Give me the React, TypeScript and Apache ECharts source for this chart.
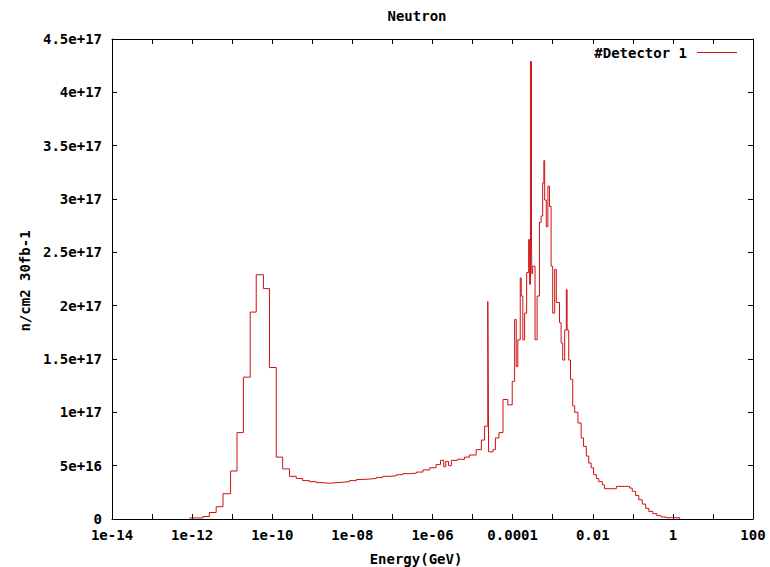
import React, { useEffect, useRef } from "react";
import * as echarts from "echarts";

// Bin left edges in log10(Energy / GeV); the last entry closes the final bin
const logEnergyEdges = [
  -12.07, -11.73, -11.57, -11.4, -11.23, -11.04, -10.88, -10.72, -10.55, -10.4,
  -10.22, -10.07, -9.9, -9.74, -9.57, -9.4, -9.24, -9.07, -8.9, -8.73,
  -8.57, -8.4, -8.24, -8.07, -7.9, -7.74, -7.57, -7.4, -7.24, -7.07,
  -6.9, -6.74, -6.57, -6.4, -6.24, -6.07, -5.91, -5.8, -5.72, -5.67,
  -5.6, -5.53, -5.38, -5.2, -5.08, -4.91, -4.78, -4.7, -4.62, -4.61,
  -4.6, -4.49, -4.43, -4.34, -4.24, -4.12, -4.01, -3.95, -3.91, -3.87,
  -3.81, -3.785, -3.745, -3.7, -3.65, -3.6, -3.575, -3.555, -3.53, -3.52,
  -3.5, -3.44, -3.39, -3.33, -3.29, -3.25, -3.22, -3.2, -3.16, -3.12,
  -3.08, -3.04, -3.0, -2.95, -2.91, -2.83, -2.79, -2.75, -2.7, -2.66,
  -2.64, -2.6, -2.555, -2.5, -2.45, -2.37, -2.29, -2.23, -2.16, -2.1,
  -2.04, -1.98, -1.91, -1.85, -1.76, -1.71, -1.41, -1.08, -1.015, -0.93,
  -0.85, -0.765, -0.68, -0.6, -0.5, -0.4, -0.29, -0.17, 0.17,
];

// Flux (n/cm2 30fb-1) in each bin; last value closes the histogram
const flux = [
  1e15, 2.3e15, 6.1e15, 1.15e16, 2.37e16, 4.5e16, 8.1e16, 1.33e17, 1.94e17, 2.29e17,
  2.16e17, 1.42e17, 5.8e16, 4.7e16, 4.0e16, 3.8e16, 3.6e16, 3.5e16, 3.4e16, 3.35e16,
  3.4e16, 3.45e16, 3.5e16, 3.6e16, 3.7e16, 3.75e16, 3.8e16, 3.9e16, 4.0e16, 4.05e16,
  4.15e16, 4.25e16, 4.3e16, 4.4e16, 4.6e16, 4.8e16, 5.1e16, 5.5e16, 4.9e16, 5.4e16,
  5.0e16, 5.5e16, 5.6e16, 5.8e16, 6.0e16, 6.5e16, 7.4e16, 8.7e16, 2.04e17, 1.43e17,
  6.3e16, 6.5e16, 7.6e16, 8.1e16, 1.12e17, 1.07e17, 1.29e17, 1.87e17, 1.43e17, 1.68e17,
  2.26e17, 2.09e17, 1.68e17, 1.93e17, 2.31e17, 2.62e17, 2.2e17, 4.29e17, 2.65e17, 2.3e17,
  2.37e17, 1.68e17, 2.09e17, 2.78e17, 2.84e17, 3.15e17, 3.36e17, 2.99e17, 2.74e17, 3.12e17,
  2.93e17, 2.37e17, 1.93e17, 2.34e17, 2.03e17, 1.84e17, 1.65e17, 1.49e17, 1.77e17, 2.15e17,
  1.77e17, 1.49e17, 1.31e17, 1.06e17, 1.0e17, 9.0e16, 7.6e16, 6.8e16, 5.9e16, 5.25e16,
  4.8e16, 4.15e16, 3.8e16, 3.5e16, 3.2e16, 2.84e16, 3.06e16, 2.9e16, 2.6e16, 2.2e16,
  1.8e16, 1.4e16, 1.0e16, 7.1e15, 5e15, 3.1e15, 1.9e15, 1.2e15, 0,
];

const xTickLabels = ["1e-14", "1e-12", "1e-10", "1e-08", "1e-06", "0.0001", "0.01", "1", "100"];
const yTickLabels = ["0", "5e+16", "1e+17", "1.5e+17", "2e+17", "2.5e+17", "3e+17", "3.5e+17", "4e+17", "4.5e+17"];

const FONT = "DejaVu Sans Mono";

export default function App() {
  const ref = useRef<HTMLDivElement>(null);
  useEffect(() => {
    if (!ref.current) return;
    const chart = echarts.init(ref.current, undefined, { renderer: "svg" });
    const textStyle = { fontFamily: FONT, fontWeight: "bold" as const, fontSize: 14, color: "#000" };
    const axisLine = { show: true, onZero: false, lineStyle: { color: "#000", width: 1 } };
    const axisTick = { show: true, inside: true, length: 5, lineStyle: { color: "#000", width: 1 } };
    const data = logEnergyEdges.map((e, i) => [e, flux[i]]);
    chart.setOption({
      animation: false,
      backgroundColor: "#fff",
      grid: { left: 112, top: 39, width: 641, height: 480, containLabel: false },
      xAxis: [
        {
          type: "value", min: -14, max: 2, interval: 1, position: "bottom",
          axisLine, axisTick, splitLine: { show: false },
          axisLabel: {
            ...textStyle, margin: 9, showMinLabel: true, showMaxLabel: true,
            formatter: (v: number) => {
              const k = Math.round(v) + 14;
              return k % 2 === 0 ? xTickLabels[k / 2] : "";
            },
          },
        },
        {
          type: "value", min: -14, max: 2, interval: 1, position: "top",
          axisLine, axisTick, splitLine: { show: false }, axisLabel: { show: false },
        },
      ],
      yAxis: [
        {
          type: "value", min: 0, max: 4.5e17, interval: 5e16, position: "left",
          axisLine, axisTick, splitLine: { show: false },
          axisLabel: {
            ...textStyle, margin: 10,
            formatter: (v: number) => yTickLabels[Math.round(v / 5e16)],
          },
        },
        {
          type: "value", min: 0, max: 4.5e17, interval: 5e16, position: "right",
          axisLine, axisTick, splitLine: { show: false }, axisLabel: { show: false },
        },
      ],
      series: [
        {
          type: "line", name: "#Detector 1", step: "end", data,
          showSymbol: false, symbol: "none",
          lineStyle: { color: "#cc1111", width: 1 },
        },
      ],
      graphic: [
        { type: "text", x: 417, y: 16, style: { text: "Neutron", ...textStyle, fill: "#000", textAlign: "center", textVerticalAlign: "middle" } },
        { type: "text", x: 416, y: 559, style: { text: "Energy(GeV)", ...textStyle, fill: "#000", textAlign: "center", textVerticalAlign: "middle" } },
        { type: "text", x: 25, y: 281, rotation: Math.PI / 2, style: { text: "n/cm2 30fb-1", ...textStyle, fill: "#000", textAlign: "center", textVerticalAlign: "middle" } },
        { type: "text", x: 687, y: 53, style: { text: "#Detector 1", ...textStyle, fill: "#000", textAlign: "right", textVerticalAlign: "middle" } },
        { type: "line", shape: { x1: 697, y1: 52.5, x2: 737, y2: 52.5 }, style: { stroke: "#cc1111", lineWidth: 1 } },
      ],
    });
    return () => chart.dispose();
  }, []);
  return <div ref={ref} style={{ position: "fixed", left: 0, top: 0, width: 770, height: 567 }} />;
}
